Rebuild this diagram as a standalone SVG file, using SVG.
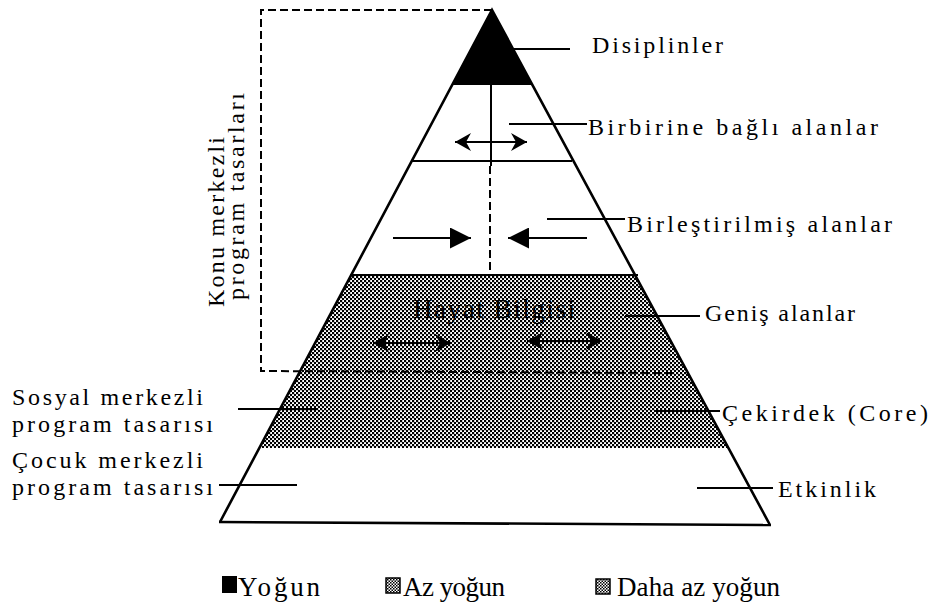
<svg xmlns="http://www.w3.org/2000/svg" width="932" height="615" viewBox="0 0 932 615">
<style>
.t{font-family:"Liberation Serif","Times New Roman",serif;font-size:24px;fill:#000}
.lg{font-family:"Liberation Serif","Times New Roman",serif;font-size:27px;fill:#000}
.ln{stroke:#000;stroke-width:2;fill:none}
.edge{stroke:#000;stroke-width:2.6;fill:none;stroke-linejoin:miter}
.dash{stroke:#000;stroke-width:2;fill:none;stroke-dasharray:8 4}
</style>
<defs>
<pattern id="dots" width="4" height="4" patternUnits="userSpaceOnUse">
<rect width="4" height="4" fill="#fff"/>
<rect x="0" y="0" width="2.2" height="2.2" fill="#000"/>
<rect x="2" y="2" width="2.2" height="2.2" fill="#000"/>
</pattern>
<pattern id="grid" width="3" height="3" patternUnits="userSpaceOnUse">
<rect width="3" height="3" fill="#fff"/>
<rect x="0" y="0" width="1.5" height="1.5" fill="#000"/>
<rect x="1.5" y="1.5" width="1.5" height="1.5" fill="#000"/>
</pattern>
<marker id="ah" viewBox="0 0 16 18" refX="16" refY="9" markerWidth="16" markerHeight="18" markerUnits="userSpaceOnUse" orient="auto-start-reverse">
<path d="M0,0 L16,9 L0,18 L5,9 z" fill="#000"/>
</marker>
<marker id="tri" viewBox="0 0 21 21" refX="21" refY="10.5" markerWidth="21" markerHeight="21" markerUnits="userSpaceOnUse" orient="auto">
<path d="M0,0 L21,10.5 L0,21 z" fill="#000"/>
</marker>
</defs>
<rect width="932" height="615" fill="#fff"/>

<g id="band-cekirdek-genis">
<polygon points="351,275 635,275 728,448 259,448" fill="url(#dots)"/>
</g>
<g id="band-disiplinler">
<polygon points="492,10 452,85 532,85" fill="#000"/>
</g>
<g id="pyramid-outline">
<polyline class="edge" points="220,522 492,10 770,525"/>
<line class="edge" x1="219" y1="522" x2="771" y2="525"/>
<line class="ln" x1="411" y1="161" x2="572" y2="161"/>
<line class="ln" x1="350" y1="275" x2="638" y2="275"/>
<line class="ln" x1="491" y1="85" x2="491" y2="166"/>
<line class="dash" x1="490" y1="166" x2="490" y2="275"/>
</g>
<g id="konu-merkezli-box">
<polyline class="dash" points="492,10 261,10 261,371 672,373"/>
</g>

<g id="connectors">
<line class="ln" x1="513" y1="49" x2="570" y2="49"/>
<line class="ln" x1="509" y1="124" x2="587" y2="124"/>
<line class="ln" x1="547" y1="219" x2="625" y2="219"/>
<line class="ln" x1="625" y1="316" x2="700" y2="316"/>
<line class="ln" x1="655" y1="411" x2="720" y2="411"/>
<line class="ln" x1="697" y1="488" x2="773" y2="488"/>
<line class="ln" x1="238" y1="409" x2="317" y2="409"/>
<line class="ln" x1="219" y1="485" x2="297" y2="485"/>
<line class="ln" x1="455" y1="142" x2="527" y2="142" marker-start="url(#ah)" marker-end="url(#ah)"/>
<line class="ln" x1="393" y1="238" x2="471" y2="238" marker-end="url(#tri)"/>
<line class="ln" x1="587" y1="238" x2="508" y2="238" marker-end="url(#tri)"/>
<line class="ln" x1="373" y1="343" x2="451" y2="343" marker-start="url(#ah)" marker-end="url(#ah)"/>
<line class="ln" x1="527" y1="341" x2="602" y2="341" marker-start="url(#ah)" marker-end="url(#ah)"/>
</g>

<g id="label-disiplinler"><text class="t" x="592" y="53" textLength="131" lengthAdjust="spacing">Disiplinler</text></g>
<g id="label-birbirine"><text class="t" x="588" y="135" textLength="290" lengthAdjust="spacing">Birbirine bağlı alanlar</text></g>
<g id="label-birlestirilmis"><text class="t" x="627" y="232" textLength="265" lengthAdjust="spacing">Birleştirilmiş alanlar</text></g>
<g id="label-genis"><text class="t" x="705" y="321" textLength="150" lengthAdjust="spacing">Geniş alanlar</text></g>
<g id="label-cekirdek"><text class="t" x="722" y="421" textLength="206" lengthAdjust="spacing">Çekirdek (Core)</text></g>
<g id="label-etkinlik"><text class="t" x="778" y="497" textLength="98" lengthAdjust="spacing">Etkinlik</text></g>
<g id="label-hayat"><text class="t" x="413" y="318" style="font-size:27px" textLength="162" lengthAdjust="spacing">Hayat Bilgisi</text></g>
<g id="label-sosyal">
<text class="t" x="12" y="405" textLength="191" lengthAdjust="spacing">Sosyal merkezli</text>
<text class="t" x="12" y="432" textLength="201" lengthAdjust="spacing">program tasarısı</text>
</g>
<g id="label-cocuk">
<text class="t" x="12" y="468" textLength="191" lengthAdjust="spacing">Çocuk merkezli</text>
<text class="t" x="12" y="495" textLength="201" lengthAdjust="spacing">program tasarısı</text>
</g>
<g id="label-konu">
<text class="t" transform="translate(224,307) rotate(-90)" x="0" y="0" textLength="170" lengthAdjust="spacing">Konu merkezli</text>
<text class="t" transform="translate(244,300) rotate(-90)" x="0" y="0" textLength="207" lengthAdjust="spacing">program tasarları</text>
</g>

<g id="legend-yogun">
<rect x="222" y="576" width="15" height="17" fill="#000"/>
<text class="lg" x="238" y="596" textLength="82" lengthAdjust="spacing">Yoğun</text>
</g>
<g id="legend-az-yogun">
<rect x="386" y="578" width="14" height="15" fill="url(#grid)" stroke="#000" stroke-width="1.5"/>
<text class="lg" x="403" y="596" textLength="102" lengthAdjust="spacing">Az yoğun</text>
</g>
<g id="legend-daha-az-yogun">
<rect x="596" y="579" width="14" height="15" fill="url(#grid)" stroke="#000" stroke-width="1.5"/>
<text class="lg" x="617" y="596" textLength="163" lengthAdjust="spacing">Daha az yoğun</text>
</g>
</svg>
